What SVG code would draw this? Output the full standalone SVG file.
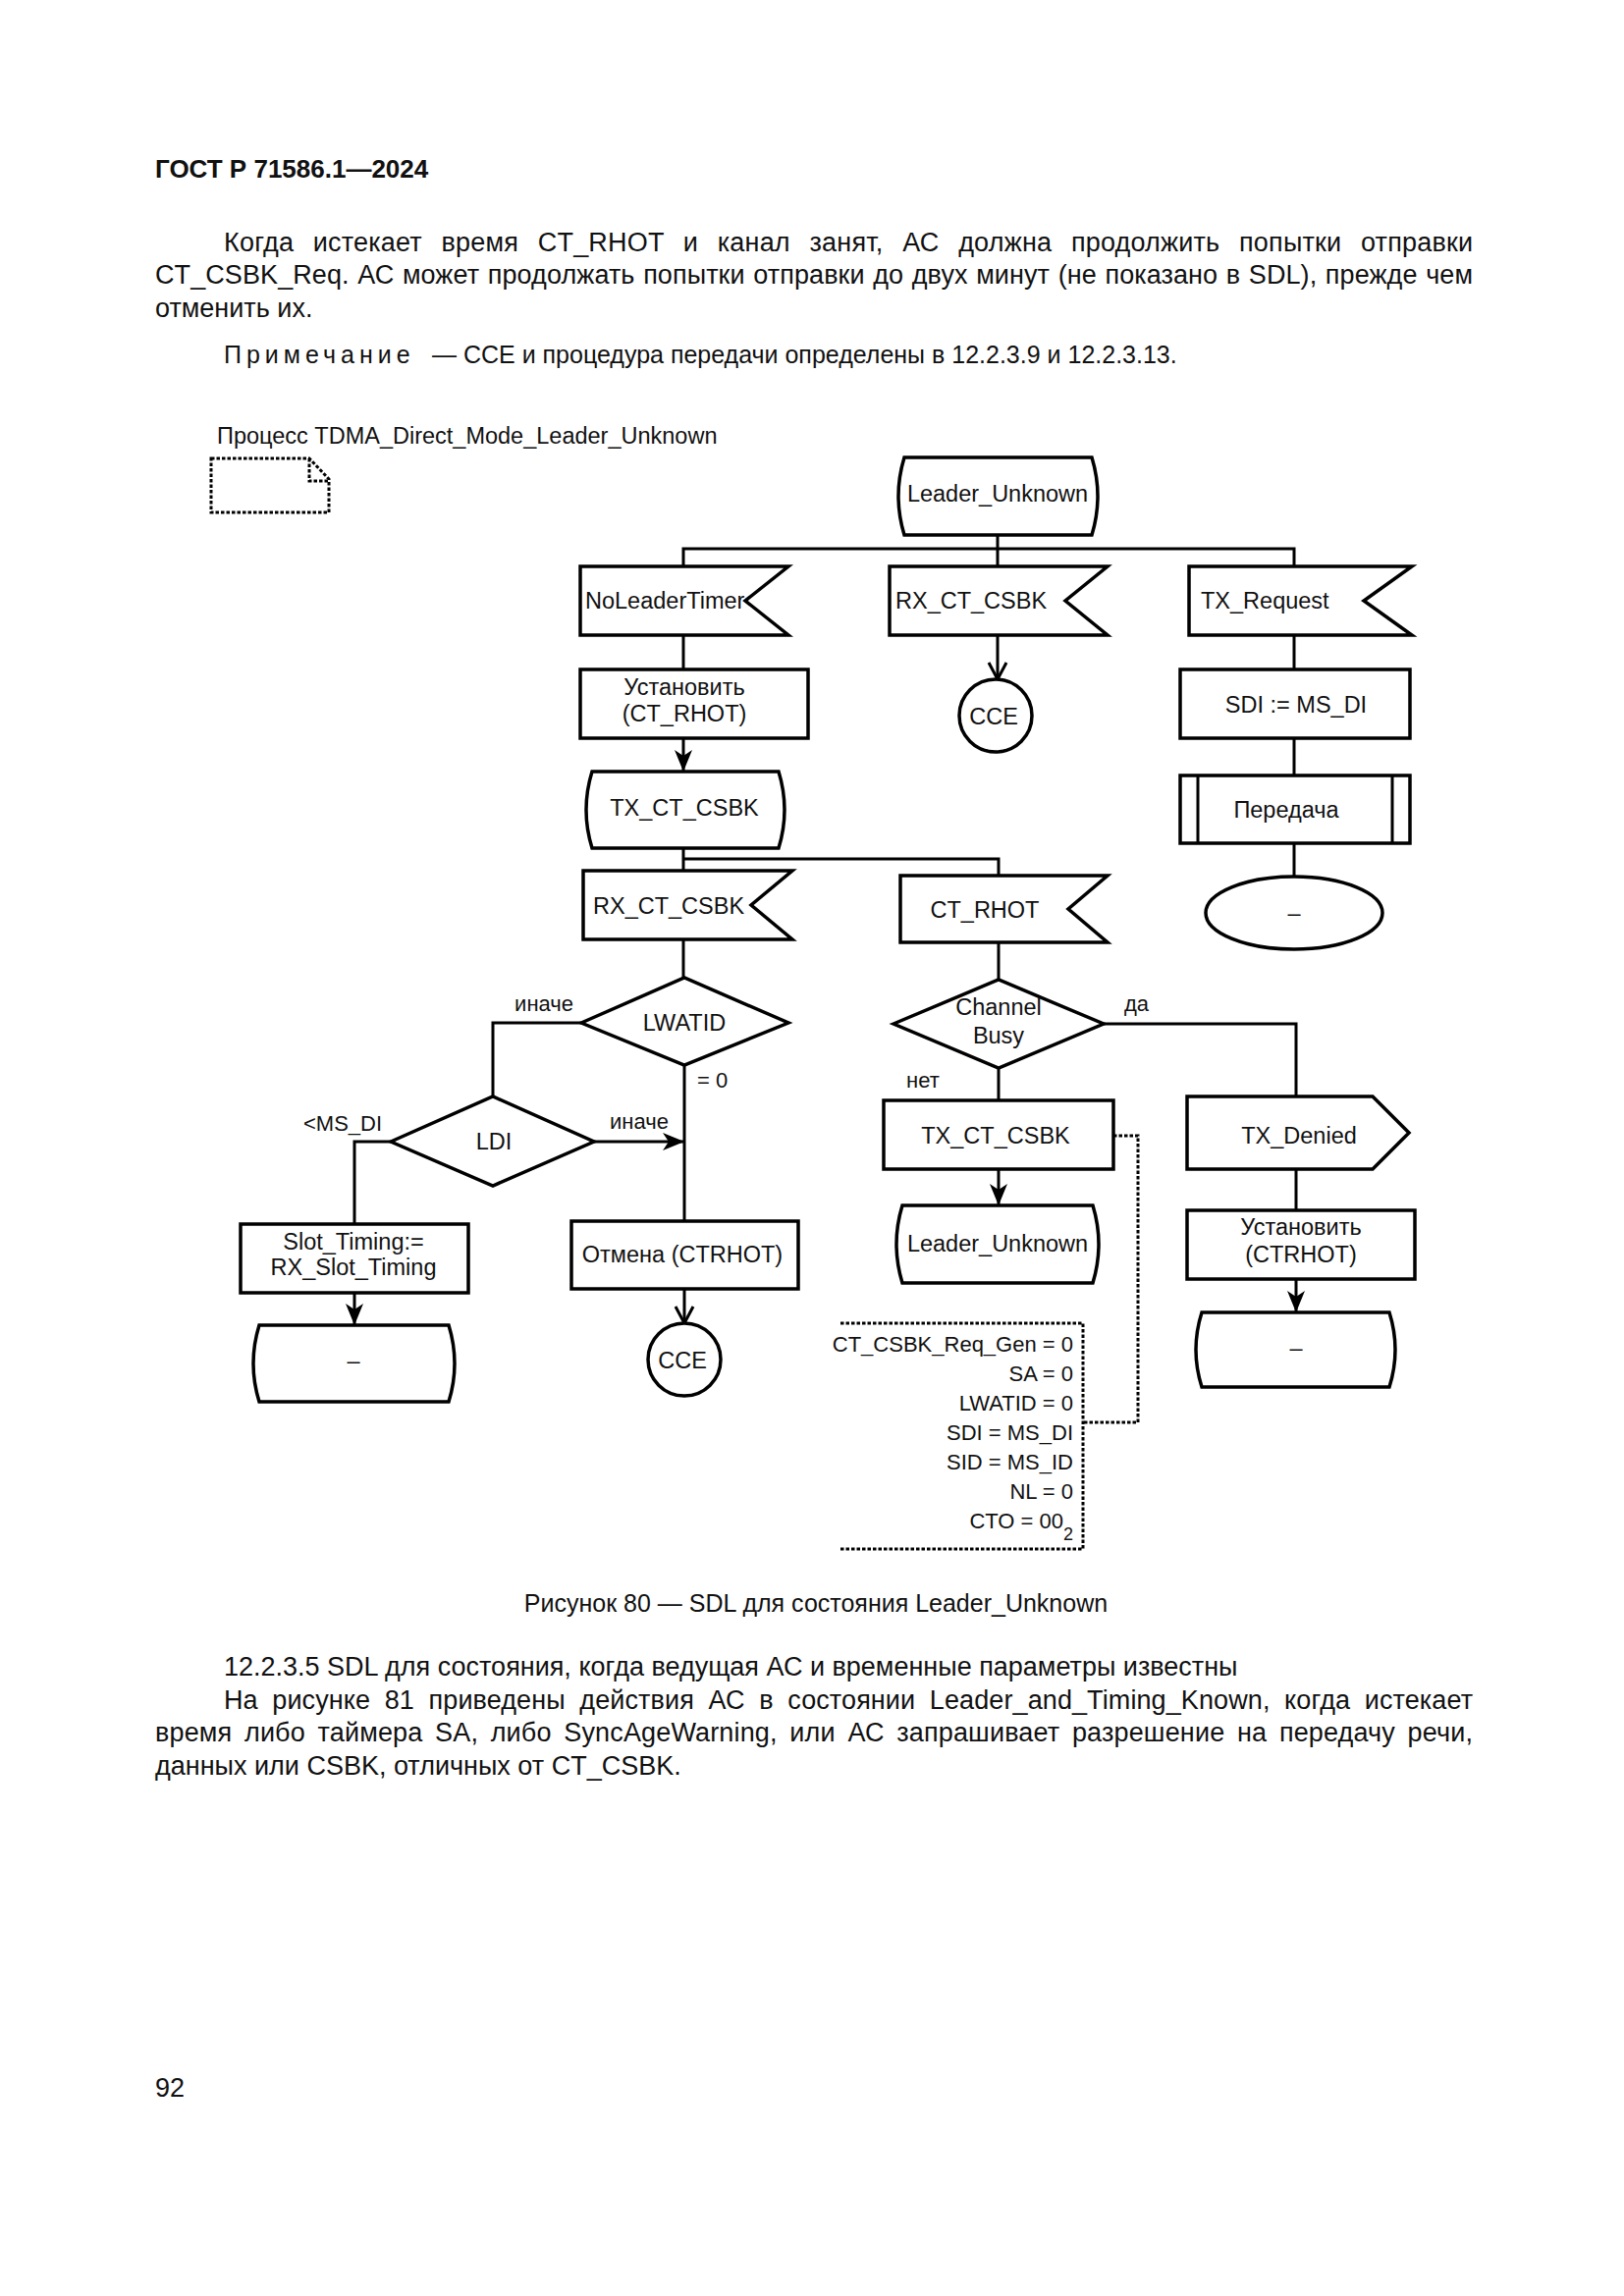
<svg xmlns="http://www.w3.org/2000/svg" width="1654" height="2339" viewBox="0 0 1654 2339">
<style>
.bg{fill:#fff}
.n{fill:#fff;stroke:#000;stroke-width:3.5;stroke-linejoin:miter}
.c{fill:none;stroke:#000;stroke-width:3}
.d{fill:none;stroke:#000;stroke-width:3;stroke-dasharray:3.5 2}
.t{font-family:"Liberation Sans",Arial,sans-serif;font-size:23.5px;fill:#111}
.m{text-anchor:middle}
.e{text-anchor:end}
.s{font-size:22px}
.b{font-family:"Liberation Sans",Arial,sans-serif;font-size:27px;fill:#111}
.nt{font-family:"Liberation Sans",Arial,sans-serif;font-size:25px;fill:#111}
</style>
<defs>
<marker id="af" markerUnits="userSpaceOnUse" viewBox="0 0 22 18" refX="22" refY="9" markerWidth="22" markerHeight="18" orient="auto">
<path d="M0,0 L22,9 L0,18 L6,9 Z" fill="#000"/>
</marker>
<marker id="ao" markerUnits="userSpaceOnUse" viewBox="0 0 22 22" refX="20" refY="11" markerWidth="22" markerHeight="22" orient="auto">
<path d="M3,2 L20,11 L3,20" fill="none" stroke="#000" stroke-width="3"/>
</marker>
</defs>
<rect class="bg" x="0" y="0" width="1654" height="2339"/>

<g id="page-text">
<text x="158" y="181" font-family="Liberation Sans, Arial, sans-serif" font-size="26" font-weight="bold" fill="#111">ГОСТ Р 71586.1—2024</text>
<text class="b" x="228" y="256" word-spacing="12" textLength="1272" lengthAdjust="spacing">Когда истекает время CT_RHOT и канал занят, АС должна продолжить попытки отправки</text>
<text class="b" x="158" y="289" word-spacing="1" textLength="1342" lengthAdjust="spacing">CT_CSBK_Req. АС может продолжать попытки отправки до двух минут (не показано в SDL), прежде чем</text>
<text class="b" x="158" y="323">отменить их.</text>
<text class="nt" x="228" y="370" letter-spacing="5">Примечание</text>
<text class="nt" x="440" y="370">— ССЕ и процедура передачи определены в 12.2.3.9 и 12.2.3.13.</text>
<text class="nt m" x="831" y="1642">Рисунок 80 — SDL для состояния Leader_Unknown</text>
<text class="b" x="228" y="1707">12.2.3.5 SDL для состояния, когда ведущая АС и временные параметры известны</text>
<text class="b" x="228" y="1741" word-spacing="7" textLength="1272" lengthAdjust="spacing">На рисунке 81 приведены действия АС в состоянии Leader_and_Timing_Known, когда истекает</text>
<text class="b" x="158" y="1774" word-spacing="5" textLength="1342" lengthAdjust="spacing">время либо таймера SA, либо SyncAgeWarning, или АС запрашивает разрешение на передачу речи,</text>
<text class="b" x="158" y="1808">данных или CSBK, отличных от CT_CSBK.</text>
<text class="b" x="158" y="2152" dy="-16">92</text>
</g>

<g id="process">
<text class="t" x="221" y="452" font-size="24">Процесс TDMA_Direct_Mode_Leader_Unknown</text>
<path class="d" d="M215,467 H315 L335,488 V522 H215 Z"/>
<path class="d" d="M315,467 V490 H335"/>
</g>

<g id="connectors">
<path class="c" d="M1016,545 V577"/>
<path class="c" d="M696,577 V559 H1318 V577"/>
<path class="c" d="M696,647 V682"/>
<path class="c" d="M696,752 V786" marker-end="url(#af)"/>
<path class="c" d="M1016,647 V692" marker-end="url(#ao)"/>
<path class="c" d="M1318,647 V682"/>
<path class="c" d="M1318,752 V790"/>
<path class="c" d="M1318,859 V893"/>
<path class="c" d="M696,864 V887"/>
<path class="c" d="M696,875 H1017 V892"/>
<path class="c" d="M696,957 V996"/>
<path class="c" d="M1017,960 V998"/>
<path class="c" d="M592,1042 H502 V1117"/>
<path class="c" d="M398,1163 H361 V1247"/>
<path class="c" d="M605,1163 H697" marker-end="url(#af)"/>
<path class="c" d="M697,1085 V1244"/>
<path class="c" d="M361,1317 V1350" marker-end="url(#af)"/>
<path class="c" d="M697,1313 V1348" marker-end="url(#ao)"/>
<path class="c" d="M1124,1043 H1320 V1117"/>
<path class="c" d="M1017,1088 V1121"/>
<path class="c" d="M1017,1191 V1228" marker-end="url(#af)"/>
<path class="c" d="M1320,1191 V1233"/>
<path class="c" d="M1320,1303 V1337" marker-end="url(#af)"/>
<path class="d" d="M1134,1157 H1159 V1449 H1103"/>
<text class="t s" x="584" y="1030" text-anchor="end">иначе</text>
<text class="t s" x="710" y="1108">= 0</text>
<text class="t s" x="309" y="1152">&lt;MS_DI</text>
<text class="t s" x="621" y="1150">иначе</text>
<text class="t s" x="1145" y="1030">да</text>
<text class="t s" x="923" y="1108">нет</text>
</g>

<g id="state-leader-unknown-top">
<path class="n" d="M921,466 H1112 Q1124,505.5 1112,545 H921 Q909,505.5 921,466 Z"/>
<text class="t m" x="1016" y="511">Leader_Unknown</text>
</g>
<g id="in-noleadertimer">
<path class="n" d="M591,577 H803 L759,612 L803,647 H591 Z"/>
<text class="t" x="596" y="620">NoLeaderTimer</text>
</g>
<g id="in-rx-ct-csbk-top">
<path class="n" d="M906,577 H1128 L1085,612 L1128,647 H906 Z"/>
<text class="t" x="912" y="620">RX_CT_CSBK</text>
</g>
<g id="in-tx-request">
<path class="n" d="M1211,577 H1438 L1389,612 L1438,647 H1211 Z"/>
<text class="t" x="1223" y="620">TX_Request</text>
</g>
<g id="task-set-ct-rhot">
<rect class="n" x="591" y="682" width="232" height="70"/>
<text class="t m" x="697" y="708">Установить</text>
<text class="t m" x="697" y="735">(CT_RHOT)</text>
</g>
<g id="conn-cce-top">
<circle class="n" cx="1014" cy="729" r="37"/>
<text class="t m" x="1012" y="738">CCE</text>
</g>
<g id="task-sdi">
<rect class="n" x="1202" y="682" width="234" height="70"/>
<text class="t m" x="1320" y="726">SDI := MS_DI</text>
</g>
<g id="state-tx-ct-csbk">
<path class="n" d="M603,786 H793 Q805,825 793,864 H603 Q591,825 603,786 Z"/>
<text class="t m" x="697" y="831">TX_CT_CSBK</text>
</g>
<g id="proc-peredacha">
<rect class="n" x="1202" y="790" width="234" height="69"/>
<path class="c" d="M1220,790 V859 M1418,790 V859"/>
<text class="t m" x="1310" y="833">Передача</text>
</g>
<g id="stop-ellipse">
<ellipse class="n" cx="1318" cy="930" rx="90" ry="37"/>
<text class="t m" x="1318" y="938">–</text>
</g>
<g id="in-rx-ct-csbk-low">
<path class="n" d="M594,887 H807 L765,922 L807,957 H594 Z"/>
<text class="t" x="604" y="931">RX_CT_CSBK</text>
</g>
<g id="in-ct-rhot">
<path class="n" d="M917,892 H1128 L1088,926 L1128,960 H917 Z"/>
<text class="t m" x="1003" y="935">CT_RHOT</text>
</g>
<g id="dec-lwatid">
<path class="n" d="M592,1042 L697,996 L803,1042 L697,1085 Z"/>
<text class="t m" x="697" y="1050">LWATID</text>
</g>
<g id="dec-ldi">
<path class="n" d="M398,1163 L502,1117 L605,1163 L502,1208 Z"/>
<text class="t m" x="503" y="1171">LDI</text>
</g>
<g id="dec-channel-busy">
<path class="n" d="M910,1043 L1017,998 L1124,1043 L1017,1088 Z"/>
<text class="t m" x="1017" y="1034">Channel</text>
<text class="t m" x="1017" y="1063">Busy</text>
</g>
<g id="task-slot-timing">
<rect class="n" x="245" y="1247" width="232" height="70"/>
<text class="t m" x="360" y="1273">Slot_Timing:=</text>
<text class="t m" x="360" y="1299">RX_Slot_Timing</text>
</g>
<g id="state-dash-left">
<path class="n" d="M264,1350 H457 Q469,1389 457,1428 H264 Q252,1389 264,1350 Z"/>
<text class="t m" x="360" y="1394">–</text>
</g>
<g id="task-cancel">
<rect class="n" x="582" y="1244" width="231" height="69"/>
<text class="t m" x="695" y="1286">Отмена (CTRHOT)</text>
</g>
<g id="conn-cce-low">
<circle class="n" cx="697" cy="1385" r="37"/>
<text class="t m" x="695" y="1394">CCE</text>
</g>
<g id="task-tx-ct-csbk">
<rect class="n" x="900" y="1121" width="234" height="70"/>
<text class="t m" x="1014" y="1165">TX_CT_CSBK</text>
</g>
<g id="state-leader-unknown-low">
<path class="n" d="M919,1228 H1113 Q1125,1267.5 1113,1307 H919 Q907,1267.5 919,1228 Z"/>
<text class="t m" x="1016" y="1275">Leader_Unknown</text>
</g>
<g id="out-tx-denied">
<path class="n" d="M1209,1117 H1398 L1435,1154 L1398,1191 H1209 Z"/>
<text class="t m" x="1323" y="1165">TX_Denied</text>
</g>
<g id="task-set-ctrhot">
<rect class="n" x="1209" y="1233" width="232" height="70"/>
<text class="t m" x="1325" y="1258">Установить</text>
<text class="t m" x="1325" y="1286">(CTRHOT)</text>
</g>
<g id="state-dash-right">
<path class="n" d="M1224,1337 H1415 Q1427,1375 1415,1413 H1224 Q1212,1375 1224,1337 Z"/>
<text class="t m" x="1320" y="1381">–</text>
</g>
<g id="text-extension">
<path class="d" d="M856,1348 H1103 V1578 H856"/>
<text class="t s e" x="1093" y="1377">CT_CSBK_Req_Gen = 0</text>
<text class="t s e" x="1093" y="1407">SA = 0</text>
<text class="t s e" x="1093" y="1437">LWATID = 0</text>
<text class="t s e" x="1093" y="1467">SDI = MS_DI</text>
<text class="t s e" x="1093" y="1497">SID = MS_ID</text>
<text class="t s e" x="1093" y="1527">NL = 0</text>
<text class="t s e" x="1093" y="1557">CTO = 00<tspan font-size="18" dy="12">2</tspan></text>
</g>
</svg>
